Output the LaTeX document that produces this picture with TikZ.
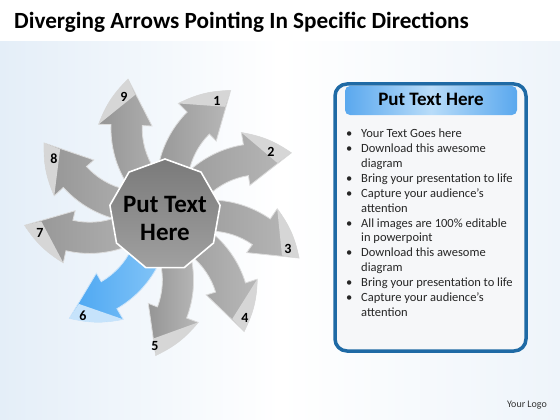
\documentclass[tikz,border=0pt]{standalone}
\usepackage{fontspec}
\setmainfont{Carlito}
\definecolor{bgL}{HTML}{E4EEF8}
\definecolor{bgR}{HTML}{EEF4FA}
\definecolor{gIn}{HTML}{959595}
\definecolor{gOut}{HTML}{B8B8B8}
\definecolor{gEdge}{HTML}{DCDCDC}
\definecolor{gTip}{HTML}{D6D6D6}
\definecolor{bIn}{HTML}{4AA6F2}
\definecolor{bOut}{HTML}{8ECAF8}
\definecolor{bEdge}{HTML}{CFE6FA}
\definecolor{bTip}{HTML}{C6E3FB}
\definecolor{nonaTop}{HTML}{7A7A7A}
\definecolor{nonaBot}{HTML}{A0A0A0}
\definecolor{panelBorder}{HTML}{1F6AA5}
\definecolor{panelFill}{HTML}{F6F7F9}
\definecolor{hdrBlue}{HTML}{5AA8EE}
\definecolor{hdrLight}{HTML}{B8DCF9}
\newcommand\onearrow[5]{%
  \begin{scope}[rotate=#1]
    \shade[left color=#2, right color=#3, draw=#4, line width=0.8pt]
      (0,15) -- (45,15) arc[start angle=90,end angle=55,radius=105]
      -- (112.2,6.2) to[bend left=12] (134,-43) -- (81.7,-37.6)
      -- (87.4,-29.6) arc[start angle=55,end angle=90,radius=75]
      -- (45,-15) -- (0,-15) -- cycle;
    \fill[#5] (112.2,6.2) to[bend left=12] (134,-43) -- (117,-40.5) -- cycle;
  \end{scope}}
\begin{document}
\begin{tikzpicture}[x=1pt,y=-1pt,
  numlab/.style={font=\bfseries\fontsize{14}{14}\selectfont, text=black, inner sep=0pt},
  listline/.style={font=\fontsize{12.5}{14}\selectfont, text=black!85, anchor=base west, inner sep=0pt},
]
\useasboundingbox (0,0) rectangle (560,420);
\fill[white] (0,0) rectangle (560,420);
\shade[left color=bgL, right color=bgR, middle color=white] (0,42) rectangle (560,420);
\node[anchor=base west, font=\bfseries\fontsize{23.2}{24}\selectfont, inner sep=0pt] (title) at (14,29) {Diverging Arrows Pointing In Specific Directions};
% arrows
\begin{scope}[shift={(165,215)}, y=1pt]
  \onearrow{123}{gIn}{gOut}{gEdge}{gTip}
  \onearrow{167}{gIn}{gOut}{gEdge}{gTip}
  \onearrow{-158}{gIn}{gOut}{gEdge}{gTip}
  \onearrow{-76}{gIn}{gOut}{gEdge}{gTip}
  \onearrow{-38}{gIn}{gOut}{gEdge}{gTip}
  \onearrow{0}{gIn}{gOut}{gEdge}{gTip}
  \onearrow{44}{gIn}{gOut}{gEdge}{gTip}
  \onearrow{80}{gIn}{gOut}{gEdge}{gTip}
  \onearrow{-115}{bIn}{bOut}{bEdge}{bTip}
\end{scope}
\shade[top color=nonaTop, bottom color=nonaBot, draw=white, line width=1.6pt]
  (165,159) -- (201.0,172.1) -- (220.1,205.3) -- (213.5,243) -- (184.2,267.6)
  -- (145.8,267.6) -- (116.5,243) -- (109.9,205.3) -- (129.0,172.1) -- cycle;
\node[font=\bfseries\fontsize{25}{28}\selectfont, align=center, inner sep=0pt] (ctext) at (165,218) {Put Text\\Here};
% numbers
\node[numlab] (n1) at (217,101) {1};
\node[numlab] (n2) at (271,152) {2};
\node[numlab] (n3) at (288,249) {3};
\node[numlab] (n4) at (245,318) {4};
\node[numlab] (n5) at (155,346) {5};
\node[numlab] (n6) at (83,316) {6};
\node[numlab] (n7) at (40,233) {7};
\node[numlab] (n8) at (54,159) {8};
\node[numlab] (n9) at (124,97) {9};
% panel
\draw[line width=3.5pt, draw=panelBorder, fill=panelFill, rounded corners=12pt] (335,84) rectangle (526,351);
\shade[rounded corners=5pt, left color=hdrBlue, right color=hdrBlue, middle color=hdrLight] (345,86) rectangle (517,115);
\node[font=\bfseries\fontsize{19}{20}\selectfont, inner sep=0pt] (hdr) at (431,99) {Put Text Here};
\foreach \i/\b/\t in {0/1/Your Text Goes here, 1/1/Download this awesome, 2/0/diagram,
  3/1/Bring your presentation to life, 4/1/Capture your audience’s, 5/0/attention,
  6/1/All images are 100\% editable, 7/0/in powerpoint, 8/1/Download this awesome,
  9/0/diagram, 10/1/Bring your presentation to life, 11/1/Capture your audience’s, 12/0/attention}{
  \pgfmathsetmacro\yy{134.3+14.87*\i+3.6}
  \node[listline] (l\i) at (361,\yy) {\t};
  \ifnum\b=1 \node[listline] (b\i) at (346,\yy) {•}; \fi
}
\node[font=\fontsize{10}{12}\selectfont, text=black!80, inner sep=0pt] (logo) at (527,405) {Your Logo};
\end{tikzpicture}
\end{document}
